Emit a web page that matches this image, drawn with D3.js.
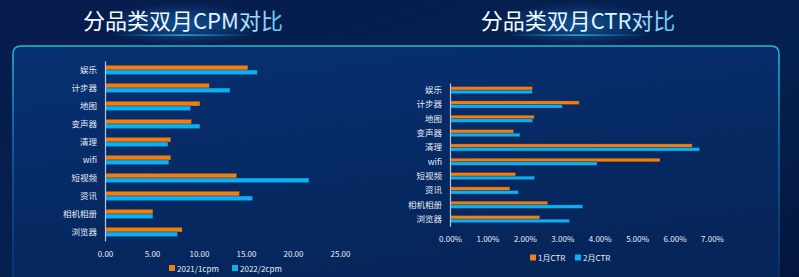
<!DOCTYPE html>
<html>
<head>
<meta charset="utf-8">
<script src="https://cdn.jsdelivr.net/npm/d3@7"></script>
<style>
  html, body { margin: 0; padding: 0; background: #041640; }
  svg { display: block; }
  text { font-family: "Noto Sans CJK SC", "Noto Sans", sans-serif; }
</style>
</head>
<body>
<div id="chart"></div>
<script>
// categories, top to bottom
const categories = ["娱乐", "计步器", "地图", "变声器", "清理", "wifi", "短视频", "资讯", "相机相册", "浏览器"];

// CPM values
const cpmJan = [15.2, 11.1, 10.1, 9.2, 7.0, 7.0, 14.0, 14.3, 5.1, 8.2];
const cpmFeb = [16.2, 13.3, 9.1, 10.1, 6.7, 6.8, 21.7, 15.7, 5.1, 7.7];
const cpmTicks = [0, 5, 10, 15, 20, 25];
const cpmNames = ["2021/1cpm", "2022/2cpm"];

// CTR values (%)
const ctrJan = [2.20, 3.45, 2.25, 1.70, 6.47, 5.61, 1.75, 1.60, 2.61, 2.40];
const ctrFeb = [2.20, 3.00, 2.21, 1.87, 6.67, 3.93, 2.26, 1.83, 3.55, 3.19];
const ctrTicks = [0, 1, 2, 3, 4, 5, 6, 7];
const ctrNames = ["1月CTR", "2月CTR"];

const W = 799, H = 277;
const ORANGE = "#ee7f14", BLUE = "#0cb0f2";

const svg = d3.select("#chart").append("svg").attr("width", W).attr("height", H);
const defs = svg.append("defs");

// background
const bg = defs.append("linearGradient").attr("id", "bg").attr("x1", 0).attr("y1", 0).attr("x2", 1).attr("y2", 1);
bg.append("stop").attr("offset", "0%").attr("stop-color", "#061c4d");
bg.append("stop").attr("offset", "60%").attr("stop-color", "#05214f");
bg.append("stop").attr("offset", "100%").attr("stop-color", "#03163e");
svg.append("rect").attr("width", W).attr("height", H).attr("fill", "url(#bg)");

// panel
const pf = defs.append("linearGradient").attr("id", "pf").attr("x1", 0).attr("y1", 0).attr("x2", 0.4).attr("y2", 1);
pf.append("stop").attr("offset", "0%").attr("stop-color", "#073072");
pf.append("stop").attr("offset", "100%").attr("stop-color", "#062559");
const ps = defs.append("linearGradient").attr("id", "ps").attr("x1", 0).attr("y1", 0).attr("x2", 0).attr("y2", 1);
ps.append("stop").attr("offset", "0%").attr("stop-color", "#22b9cf");
ps.append("stop").attr("offset", "30%").attr("stop-color", "#1472b8");
ps.append("stop").attr("offset", "100%").attr("stop-color", "#0a3f86").attr("stop-opacity", 0.5);
svg.append("path")
  .attr("d", "M13,300 L13,54 Q13,46 21,46 L771,46 Q779,46 779,54 L779,300")
  .attr("fill", "url(#pf)")
  .attr("stroke", "url(#ps)")
  .attr("stroke-width", 1.6);

// title glows
const glow = defs.append("radialGradient").attr("id", "glow");
glow.append("stop").attr("offset", "0%").attr("stop-color", "#1a78c8").attr("stop-opacity", 0.55);
glow.append("stop").attr("offset", "100%").attr("stop-color", "#1a78c8").attr("stop-opacity", 0);
const line = defs.append("linearGradient").attr("id", "tline");
line.append("stop").attr("offset", "0%").attr("stop-color", "#1ea0e0").attr("stop-opacity", 0);
line.append("stop").attr("offset", "50%").attr("stop-color", "#3cc4ff").attr("stop-opacity", 1);
line.append("stop").attr("offset", "100%").attr("stop-color", "#1ea0e0").attr("stop-opacity", 0);
const tfill = defs.append("linearGradient").attr("id", "tfill");
tfill.append("stop").attr("offset", "0%").attr("stop-color", "#ffffff");
tfill.append("stop").attr("offset", "70%").attr("stop-color", "#e8f4ff");
tfill.append("stop").attr("offset", "100%").attr("stop-color", "#5ec4f4");

function title(cx, txt) {
  svg.append("ellipse").attr("cx", cx).attr("cy", 24).attr("rx", 80).attr("ry", 22).attr("fill", "url(#glow)");
  svg.append("rect").attr("x", cx - 72).attr("y", 34.5).attr("width", 144).attr("height", 1.2).attr("fill", "url(#tline)");
  svg.append("text").attr("x", cx).attr("y", 23).attr("text-anchor", "middle")
    .attr("dominant-baseline", "middle")
    .attr("font-size", 22).attr("fill", "url(#tfill)").text(txt);
}
title(183, "分品类双月CPM对比");
title(578, "分品类双月CTR对比");

function barChart(o) {
  const g = svg.append("g");
  const x = d3.scaleLinear().domain(o.domain).range(o.xr);
  const y = d3.scaleBand().domain(categories).range(o.yr);
  const bh = o.bh;
  const rows = categories.map((c, i) => ({ c, a: o.a[i], b: o.b[i] }));

  const row = g.selectAll("g.row").data(rows).enter().append("g")
    .attr("transform", d => `translate(0,${y(d.c) + y.bandwidth() / 2})`);
  row.append("rect").attr("x", x(0)).attr("y", -bh).attr("height", bh)
    .attr("width", d => x(d.a) - x(0)).attr("fill", ORANGE)
    .attr("stroke", "#3a2a30").attr("stroke-opacity", 0.5).attr("stroke-width", 0.6);
  row.append("rect").attr("x", x(0)).attr("y", 0).attr("height", bh)
    .attr("width", d => x(d.b) - x(0)).attr("fill", BLUE)
    .attr("stroke", "#0a2a5a").attr("stroke-opacity", 0.6).attr("stroke-width", 0.6);

  // category axis
  const ya = g.append("g").attr("transform", `translate(${x(0)},0)`)
    .call(d3.axisLeft(y).tickSize(0).tickPadding(o.pad));
  ya.select(".domain").attr("stroke", "#b8c4d8").attr("stroke-width", 1.2);
  ya.selectAll("text").attr("fill", "#e6ecf6").attr("font-size", o.fs);

  // value axis
  const xa = g.append("g").attr("transform", `translate(0,${o.tickY})`)
    .call(d3.axisBottom(x).tickValues(o.ticks).tickSize(0).tickFormat(o.fmt));
  xa.select(".domain").remove();
  xa.selectAll("text").attr("fill", "#e6ecf6").attr("font-size", 8).attr("y", 0).attr("dy", 0)
    .attr("dominant-baseline", "central");

  // legend
  const lg = g.append("g").attr("transform", `translate(0,${o.legY})`);
  o.names.forEach((n, i) => {
    const lx = o.legX[i];
    lg.append("rect").attr("x", lx).attr("y", -3).attr("width", 6).attr("height", 6)
      .attr("fill", i === 0 ? ORANGE : BLUE);
    lg.append("text").attr("x", lx + 8).attr("y", 0).attr("dominant-baseline", "central")
      .attr("fill", "#e6ecf6").attr("font-size", 8).text(n);
  });
}

barChart({
  a: cpmJan, b: cpmFeb, names: cpmNames,
  domain: [0, 25], xr: [105, 340], yr: [61, 241], bh: 4.7,
  ticks: cpmTicks, fmt: d3.format(".2f"), tickY: 253.5,
  legY: 268, legX: [169, 232], pad: 8, fs: 8.5
});

barChart({
  a: ctrJan, b: ctrFeb, names: ctrNames,
  domain: [0, 7], xr: [450, 712], yr: [83, 226.3], bh: 3.6,
  ticks: ctrTicks, fmt: d => d.toFixed(2) + "%", tickY: 238.5,
  legY: 257.5, legX: [530, 575], pad: 8, fs: 8.5
});
</script>
</body>
</html>
